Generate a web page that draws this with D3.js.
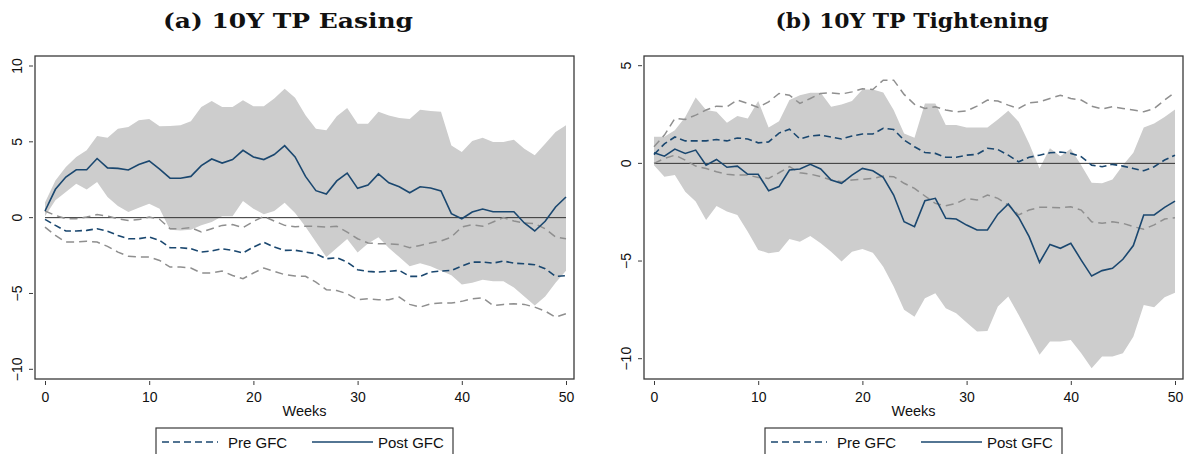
<!DOCTYPE html>
<html>
<head>
<meta charset="utf-8">
<script src="https://cdn.jsdelivr.net/npm/d3@7"></script>
<style>
  body { margin: 0; background: #fff; }
  text { font-family: "Liberation Sans", Arial, sans-serif; fill: #111; }
</style>
</head>
<body>
<div id="vis"></div>
<script>
const width = 1188;
const height = 454;

const weeks = d3.range(0, 51);
const xTicks = [0, 10, 20, 30, 40, 50];
const legendLabels = ['Pre GFC', 'Post GFC'];

// (a) 10Y TP Easing
const easingTicks = [-10, -5, 0, 5, 10];
const easingPost = [0.44,1.87,2.68,3.16,3.16,3.9,3.28,3.25,3.14,3.5,
  3.74,3.2,2.6,2.6,2.72,3.43,3.87,3.6,3.83,4.44,
  4.0,3.83,4.16,4.75,4.0,2.72,1.78,1.56,2.42,2.94,
  1.93,2.15,2.88,2.3,2.04,1.64,2.04,1.95,1.76,0.26,
  -0.07,0.37,0.57,0.39,0.39,0.39,-0.35,-0.88,-0.24,0.7,1.36];
const easingPostHi = [1.0,2.45,3.34,4.0,4.44,5.38,5.27,5.87,5.98,6.42,
  6.5,6.03,6.05,6.09,6.35,7.3,7.7,7.3,7.3,7.74,
  7.35,7.35,7.85,8.5,7.9,6.75,5.87,5.76,6.68,7.23,
  6.2,6.2,6.99,6.73,6.57,6.5,7.12,7.03,6.99,4.75,
  4.33,5.05,5.27,4.99,4.99,5.14,4.55,4.11,4.88,5.65,6.09];
const easingPostLo = [0.1,1.14,1.69,2.24,1.85,2.35,1.36,0.77,0.37,0.66,
  0.92,0.59,-0.8,-0.84,-0.8,-0.5,-0.29,0.09,0.1,1.1,
  0.59,0.22,0.44,0.99,0.3,-0.6,-1.6,-2.6,-2.0,-1.4,
  -2.3,-1.7,-1.3,-2.0,-2.6,-3.2,-3.0,-3.2,-3.5,-3.8,
  -4.4,-4.3,-4.1,-4.2,-4.2,-4.6,-5.2,-5.8,-5.2,-4.3,-3.5];
const easingPre = [-0.11,-0.51,-0.88,-0.88,-0.84,-0.73,-0.9,-1.17,-1.39,-1.39,
  -1.28,-1.5,-1.98,-1.98,-2.05,-2.27,-2.2,-2.05,-2.16,-2.33,
  -1.94,-1.63,-1.94,-2.16,-2.15,-2.27,-2.38,-2.71,-2.64,-2.93,
  -3.43,-3.54,-3.59,-3.54,-3.48,-3.87,-3.87,-3.59,-3.52,-3.48,
  -3.19,-2.93,-2.93,-3.0,-2.86,-3.0,-3.04,-3.1,-3.37,-3.87,-3.83];
const easingPreHi = [0.44,0.15,-0.07,-0.07,0.04,0.2,0.11,-0.07,-0.18,-0.13,
  0.04,-0.11,-0.73,-0.73,-0.66,-0.95,-0.73,-0.51,-0.46,-0.66,
  -0.25,0.08,-0.22,-0.51,-0.6,-0.57,-0.57,-0.62,-0.57,-0.95,
  -1.39,-1.67,-1.72,-1.72,-1.78,-1.98,-1.83,-1.67,-1.54,-1.28,
  -0.62,-0.46,-0.57,-0.29,0.0,-0.22,-0.35,-0.4,-0.73,-1.28,-1.39];
const easingPreLo = [-0.62,-1.17,-1.61,-1.61,-1.56,-1.61,-1.89,-2.27,-2.55,-2.6,
  -2.6,-2.82,-3.26,-3.26,-3.32,-3.65,-3.65,-3.52,-3.81,-4.03,
  -3.65,-3.32,-3.54,-3.76,-3.84,-3.87,-4.25,-4.75,-4.8,-5.02,
  -5.41,-5.35,-5.41,-5.41,-5.24,-5.72,-5.9,-5.68,-5.63,-5.63,
  -5.52,-5.35,-5.28,-5.79,-5.72,-5.68,-5.72,-5.9,-6.16,-6.56,-6.34];

// (b) 10Y TP Tightening
const tightTicks = [-10, -5, 0, 5];
const tightPost = [0.54,0.37,0.73,0.51,0.68,-0.09,0.2,-0.2,-0.14,-0.56,
  -0.56,-1.4,-1.19,-0.34,-0.29,-0.05,-0.29,-0.85,-1.02,-0.6,
  -0.26,-0.38,-0.72,-1.62,-2.99,-3.24,-1.91,-1.79,-2.81,-2.85,
  -3.16,-3.41,-3.41,-2.6,-2.08,-2.77,-3.75,-5.07,-4.15,-4.35,
  -4.09,-4.95,-5.77,-5.49,-5.37,-4.91,-4.21,-2.64,-2.64,-2.25,-1.93];
const tightPostHi = [1.36,1.36,1.7,2.38,3.37,2.73,2.64,2.08,2.42,2.3,
  3.19,1.84,2.16,3.24,3.49,3.61,3.61,2.9,3.02,3.19,
  3.78,3.78,3.63,2.73,1.53,1.31,3.07,3.07,1.96,1.96,
  1.84,1.84,1.84,2.25,2.7,2.13,1.02,-0.26,0.77,0.37,
  0.75,-0.09,-0.99,-1.02,-0.82,-0.09,0.54,1.84,2.04,2.38,2.76];
const tightPostLo = [-0.1,-0.68,-0.6,-1.45,-1.95,-2.9,-2.18,-2.47,-2.64,-3.5,
  -4.43,-4.6,-4.52,-3.87,-4.01,-3.72,-4.09,-4.52,-5.03,-4.52,
  -4.38,-4.57,-5.29,-6.31,-7.5,-7.85,-6.91,-6.65,-7.42,-7.67,
  -8.15,-8.61,-8.58,-7.33,-6.82,-7.76,-8.78,-9.8,-9.12,-9.12,
  -9.04,-9.72,-10.49,-9.89,-9.89,-9.72,-8.87,-7.25,-7.37,-6.86,-6.62];
const tightPre = [0.45,1.0,1.35,1.15,1.15,1.15,1.22,1.15,1.3,1.25,
  1.05,1.1,1.55,1.75,1.25,1.4,1.45,1.35,1.25,1.4,
  1.5,1.5,1.8,1.73,1.19,0.85,0.56,0.51,0.31,0.31,
  0.42,0.46,0.77,0.71,0.42,0.08,0.31,0.42,0.54,0.58,
  0.51,0.34,-0.09,-0.17,-0.05,-0.14,-0.26,-0.38,-0.17,0.17,0.42];
const tightPreHi = [0.85,1.45,2.3,2.25,2.47,2.73,2.93,2.9,3.24,3.07,
  2.86,3.15,3.58,3.49,3.07,3.32,3.58,3.61,3.55,3.66,
  3.82,3.78,4.26,4.26,3.53,3.02,2.81,2.9,2.73,2.64,
  2.68,2.93,3.24,3.19,2.98,2.81,3.1,3.15,3.32,3.49,
  3.32,3.24,2.93,2.78,2.9,2.81,2.73,2.64,2.81,3.24,3.63];
const tightPreLo = [0,0.25,0.42,0.17,-0.14,-0.26,-0.43,-0.56,-0.6,-0.6,
  -0.72,-0.77,-0.48,-0.17,-0.48,-0.55,-0.68,-0.85,-0.94,-0.85,
  -0.82,-0.77,-0.65,-0.68,-1.02,-1.28,-1.67,-2.05,-2.17,-2.05,
  -1.79,-1.88,-1.62,-1.79,-2.13,-2.64,-2.39,-2.25,-2.25,-2.27,
  -2.22,-2.39,-2.99,-3.07,-2.99,-3.07,-3.24,-3.37,-3.15,-2.85,-2.78];

const navy = '#1a476f';
const grey = '#8f8f8f';
const band = '#cdcdcd';
const frameColor = '#3a3a3a';

const svg = d3.select('#vis').append('svg')
  .attr('width', width)
  .attr('height', height);

function drawPanel(p) {
  const g = svg.append('g');
  const x = d3.scaleLinear().domain([0, 50]).range([p.left + 10, p.right - 8]);
  const y = d3.scaleLinear().domain(p.yDomain).range(p.yRange);

  // confidence band of the post-GFC response
  g.append('path')
    .datum(weeks)
    .attr('fill', band)
    .attr('d', d3.area()
      .x(w => x(w))
      .y0(w => y(p.postLo[w]))
      .y1(w => y(p.postHi[w])));

  // zero line
  g.append('line')
    .attr('x1', x(0)).attr('x2', x(50))
    .attr('y1', y(0)).attr('y2', y(0))
    .attr('stroke', '#333')
    .attr('stroke-width', 1);

  const line = vals => d3.line().x(w => x(w)).y(w => y(vals[w]))(weeks);
  [p.preHi, p.preLo].forEach(vals => {
    g.append('path')
      .attr('d', line(vals))
      .attr('fill', 'none')
      .attr('stroke', grey)
      .attr('stroke-width', 1.5)
      .attr('stroke-dasharray', '8,5');
  });
  g.append('path')
    .attr('d', line(p.pre))
    .attr('fill', 'none')
    .attr('stroke', navy)
    .attr('stroke-width', 1.6)
    .attr('stroke-dasharray', '7,4');
  g.append('path')
    .attr('d', line(p.post))
    .attr('fill', 'none')
    .attr('stroke', navy)
    .attr('stroke-width', 1.6);

  // plot frame
  g.append('rect')
    .attr('x', p.left).attr('y', p.top)
    .attr('width', p.right - p.left).attr('height', p.bottom - p.top)
    .attr('fill', 'none')
    .attr('stroke', frameColor)
    .attr('stroke-width', 1.3);

  // y axis, labels turned sideways
  const yAxis = g.append('g').attr('transform', `translate(${p.left - 2},0)`)
    .call(d3.axisLeft(y).tickValues(p.yTicks).tickSize(4).tickFormat(d3.format('d')));
  yAxis.select('.domain').remove();
  yAxis.selectAll('line').attr('stroke', frameColor);
  yAxis.selectAll('text')
    .attr('x', null).attr('dy', null)
    .attr('text-anchor', 'middle')
    .attr('transform', d => `translate(-11,${y(d)}) rotate(-90)`)
    .attr('y', 0)
    .style('font-size', '14px')
    .style('font-family', '"Liberation Sans", Arial, sans-serif')
    .attr('fill', '#111');
  yAxis.selectAll('.tick').attr('transform', null);
  yAxis.selectAll('.tick line').attr('transform', d => `translate(0,${y(d)})`);

  // x axis
  const xAxis = g.append('g').attr('transform', `translate(0,${p.bottom + 2})`)
    .call(d3.axisBottom(x).tickValues(xTicks).tickSize(4).tickFormat(d3.format('d')));
  xAxis.select('.domain').remove();
  xAxis.selectAll('line').attr('stroke', frameColor);
  xAxis.selectAll('text')
    .attr('y', 21).attr('dy', null)
    .style('font-size', '14px')
    .style('font-family', '"Liberation Sans", Arial, sans-serif')
    .attr('fill', '#111');

  g.append('text')
    .attr('x', (p.left + p.right) / 2)
    .attr('y', p.bottom + 37)
    .attr('text-anchor', 'middle')
    .style('font-size', '14.5px')
    .text('Weeks');

  // title
  g.append('text')
    .attr('x', p.titleX)
    .attr('y', 28)
    .attr('text-anchor', 'middle')
    .attr('textLength', p.titleWidth)
    .attr('lengthAdjust', 'spacingAndGlyphs')
    .style('font-family', '"DejaVu Serif", "Liberation Serif", serif')
    .style('font-weight', 'bold')
    .style('font-size', '21px')
    .text(p.title);

  // legend
  const lx = (p.left + p.right) / 2 - 148.5;
  const lg = g.append('g').attr('transform', `translate(${lx},428)`);
  lg.append('rect')
    .attr('x', 0).attr('y', 0)
    .attr('width', 297).attr('height', 40)
    .attr('fill', '#fff')
    .attr('stroke', frameColor)
    .attr('stroke-width', 1.2);
  lg.append('line')
    .attr('x1', 6).attr('x2', 62).attr('y1', 14).attr('y2', 14)
    .attr('stroke', navy).attr('stroke-width', 1.6)
    .attr('stroke-dasharray', '7,4');
  lg.append('text')
    .attr('x', 72).attr('y', 20)
    .style('font-size', '15px')
    .text(legendLabels[0]);
  lg.append('line')
    .attr('x1', 156).attr('x2', 217).attr('y1', 14).attr('y2', 14)
    .attr('stroke', navy).attr('stroke-width', 1.6);
  lg.append('text')
    .attr('x', 222).attr('y', 20)
    .style('font-size', '15px')
    .text(legendLabels[1]);
}

drawPanel({
  left: 35, right: 574, top: 56, bottom: 379,
  yDomain: [-10, 10], yRange: [369.3, 66], yTicks: easingTicks,
  post: easingPost, postHi: easingPostHi, postLo: easingPostLo,
  pre: easingPre, preHi: easingPreHi, preLo: easingPreLo,
  title: '(a) 10Y TP Easing', titleX: 288, titleWidth: 250
});

drawPanel({
  left: 644, right: 1183, top: 56, bottom: 379,
  yDomain: [-10, 5], yRange: [358.7, 65.7], yTicks: tightTicks,
  post: tightPost, postHi: tightPostHi, postLo: tightPostLo,
  pre: tightPre, preHi: tightPreHi, preLo: tightPreLo,
  title: '(b) 10Y TP Tightening', titleX: 912, titleWidth: 273
});
</script>
</body>
</html>
